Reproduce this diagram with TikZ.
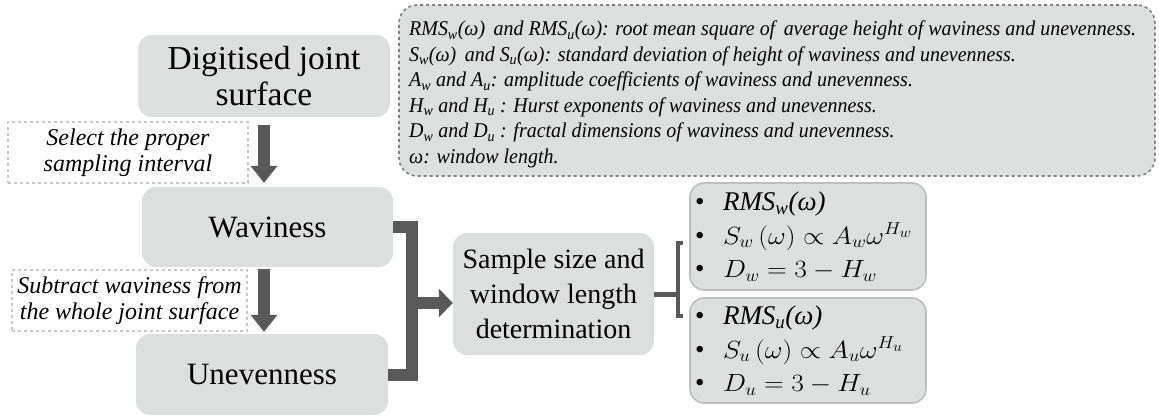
\documentclass[tikz,border=0pt]{standalone}
\usepackage{fontspec}
\usepackage{graphicx}
\setmainfont{Liberation Serif}
\newfontfamily\notefont[FakeStretch=0.95]{Liberation Serif}
\usetikzlibrary{arrows.meta}
\definecolor{boxgray}{RGB}{221,222,222}
\definecolor{arrowgray}{RGB}{89,89,89}
\definecolor{noteline}{RGB}{128,128,128}
\definecolor{labelline}{RGB}{200,200,200}
\definecolor{itemline}{RGB}{190,190,190}
\newcommand{\lo}[1]{\textsubscript{#1}}
\newcommand{\bul}{\makebox[28pt][l]{\textbullet}}
\newcommand{\wmath}[1]{\scalebox{1.1}[1]{$#1$}}
\tikzset{
  stagebox/.style={fill=boxgray, rounded corners=14pt, inner sep=0pt, align=center,
    font=\fontsize{31}{34}\selectfont},
  labelbox/.style={draw=labelline, dashed, line width=1.2pt, fill=white, inner sep=0pt,
    align=center, font=\fontsize{24}{26}\selectfont\itshape},
  notebox/.style={draw=noteline, dashed, line width=1.6pt, fill=boxgray, rounded corners=18pt},
  notetext/.style={inner sep=0pt, align=left, anchor=north west,
    font=\fontsize{21}{25.5}\selectfont\notefont\itshape},
  itembox/.style={draw=itemline, line width=1.6pt, fill=boxgray, rounded corners=14pt,
    inner xsep=5pt, inner ysep=0pt, align=left, text width=226pt,
    font=\fontsize{27}{33.5}\selectfont},
  downarrow/.style={draw=arrowgray, line width=12pt,
    -{Triangle[width=26pt,length=17pt]}},
  bar/.style={draw=arrowgray, line width=12pt, line join=miter},
  thinbar/.style={draw=arrowgray, line width=5pt},
  brace/.style={draw=arrowgray, line width=3.5pt},
}
\begin{document}
\begin{tikzpicture}[x=1pt, y=-1pt]
\useasboundingbox (0,0) rectangle (1159,418);

% key to the symbols
\node[notebox, minimum width=756pt, minimum height=171pt] (note) at (777,90.5) {};
\node[notetext] (notetxt) at (409,21) {%
RMS\lo{w}(ω)\, and RMS\lo{u}(ω): root mean square of\, average height of waviness and unevenness.\\
S\lo{w}(ω)\, and S\lo{u}(ω): standard deviation of height of waviness and unevenness.\\
A\lo{w} and A\lo{u}: amplitude coefficients of waviness and unevenness.\\
H\lo{w} and H\lo{u} : Hurst exponents of waviness and unevenness.\\
D\lo{w} and D\lo{u} : fractal dimensions of waviness and unevenness.\\
ω: window length.};

% processing stages
\node[stagebox, minimum width=252pt, minimum height=82pt,
      font=\fontsize{33.5}{36}\selectfont] (dig) at (264,76) {Digitised joint\\surface};
\node[stagebox, minimum width=251pt, minimum height=80pt] (wav) at (267.5,227) {Waviness};
\node[stagebox, minimum width=252pt, minimum height=81pt] (unev) at (262,374.5) {Unevenness};
\node[stagebox, minimum width=201pt, minimum height=122pt,
      font=\fontsize{28}{35}\selectfont] (samp) at (553.5,294) {Sample size and\\window length\\determination};

% step labels
\node[labelbox, minimum width=240pt, minimum height=61pt] (sel) at (128,152.5) {Select the proper\\sampling interval};
\node[labelbox, minimum width=235pt, minimum height=61pt] (sub) at (129.5,300.5) {Subtract waviness from\\the whole joint surface};

% results
\node[itembox, minimum width=236pt, minimum height=107pt] (resw) at (808,236.5) {%
\bul\textit{RMS\lo{w}(ω)}\\
\bul\wmath{S_w\,(\omega)\propto A_w\omega^{H_w}}\\
\bul\wmath{D_w = 3 - H_w}};
\node[itembox, minimum width=236pt, minimum height=105pt] (resu) at (808,350.5) {%
\bul\textit{RMS\lo{u}(ω)}\\
\bul\wmath{S_u\,(\omega)\propto A_u\omega^{H_u}}\\
\bul\wmath{D_u = 3 - H_u}};

% vertical flow
\draw[downarrow, shorten <=8pt, shorten >=4pt] (dig.south) -- (wav.north -| dig.south);
\draw[downarrow, shorten <=2pt, shorten >=2pt] (wav.south -| dig.south) -- (unev.north -| dig.south);

% merge into sample size determination
\coordinate (jn) at (412,303);
\draw[bar] (wav.east) -| (jn) |- (unev.east);
\draw[draw=arrowgray, line width=12pt, -{Triangle[width=28pt,length=14pt]}] (jn) -- (jn -| samp.west);

% split into results
\coordinate (btop) at (678,243);
\coordinate (bbot) at (678,316);
\draw[thinbar] (samp.east) -- (samp.east -| btop);
\draw[brace] ([xshift=5pt]btop) -- (btop) -- (bbot) -- ([xshift=5pt]bbot);
\end{tikzpicture}
\end{document}
